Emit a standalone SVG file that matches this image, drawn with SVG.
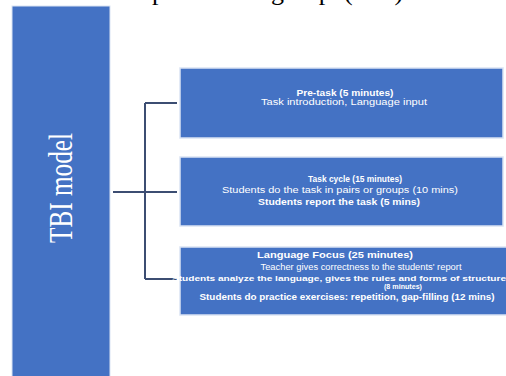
<svg xmlns="http://www.w3.org/2000/svg" width="506" height="376" viewBox="0 0 506 376">
<style>
.box{fill:#4472c4;stroke:#dae3f3;stroke-width:1.5}
.lbl{font-family:"Liberation Sans",Arial,sans-serif;fill:#ffffff;text-anchor:middle;font-size:8.5px}
.b{font-weight:bold}
.conn{stroke:#3c4d72;stroke-width:2;fill:none}
</style>
<rect width="506" height="376" fill="#ffffff"/>
<text font-family="'Liberation Serif','Times New Roman',serif" font-size="26" fill="#000000" y="-0.5"><tspan x="127.5">experimental</tspan><tspan x="271">group</tspan><tspan x="344">(TBI)</tspan></text>
<g id="tbi-model">
<rect x="12" y="6" width="98" height="372" fill="#4472c4" stroke="#dae3f3" stroke-width="1"/>
<text transform="translate(72,188) rotate(-90)" font-family="'Liberation Serif','Times New Roman',serif" font-size="33" fill="#ffffff" text-anchor="middle" textLength="110" lengthAdjust="spacingAndGlyphs">TBI model</text>
</g>
<g id="connectors">
<path class="conn" d="M113 192 H145 M145 103 V279 M145 103 H177 M145 192 H177 M145 279 H177"/>
</g>
<g id="pre-task">
<rect class="box" x="180" y="68" width="323" height="70"/>
<text class="lbl b" x="345" y="96" textLength="97" lengthAdjust="spacingAndGlyphs">Pre-task (5 minutes)</text>
<text class="lbl" x="344" y="105" textLength="166" lengthAdjust="spacingAndGlyphs">Task introduction, Language input</text>
</g>
<g id="task-cycle">
<rect class="box" x="180" y="157" width="323" height="69"/>
<text class="lbl b" x="355" y="182" textLength="94" lengthAdjust="spacingAndGlyphs">Task cycle (15 minutes)</text>
<text class="lbl" x="340" y="193" textLength="236" lengthAdjust="spacingAndGlyphs">Students do the task in pairs or groups (10 mins)</text>
<text class="lbl b" x="339" y="205" textLength="162" lengthAdjust="spacingAndGlyphs">Students report the task (5 mins)</text>
</g>
<g id="language-focus">
<rect class="box" x="180" y="247" width="330" height="68"/>
<text class="lbl b" x="335" y="258" textLength="156" lengthAdjust="spacingAndGlyphs">Language Focus (25 minutes)</text>
<text class="lbl" x="361" y="270" textLength="201" lengthAdjust="spacingAndGlyphs">Teacher gives correctness to the students' report</text>
<text class="lbl b" x="339" y="281" style="font-size:8px" textLength="334" lengthAdjust="spacingAndGlyphs">Students analyze the language, gives the rules and forms of structure</text>
<text class="lbl b" x="403" y="289" style="font-size:7px" textLength="38" lengthAdjust="spacingAndGlyphs">(8 minutes)</text>
<text class="lbl b" x="347" y="300" textLength="295" lengthAdjust="spacingAndGlyphs">Students do practice exercises: repetition, gap-filling (12 mins)</text>
</g>
</svg>
